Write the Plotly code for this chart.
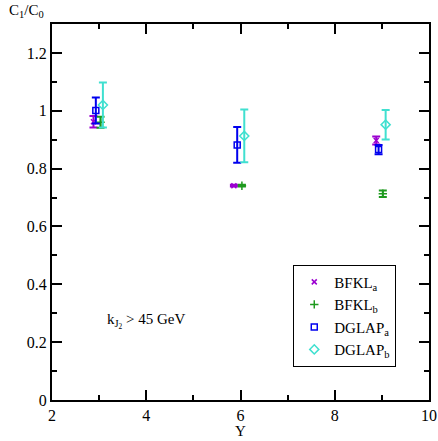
import plotly.graph_objects as go

# data
bfkl_a_x = [2.88, 5.86, 8.88]
bfkl_a_y = [0.962, 0.741, 0.897]
bfkl_a_err = [0.02, 0.003, 0.014]

bfkl_b_x = [3.03, 6.03, 9.02]
bfkl_b_y = [0.960, 0.741, 0.713]
bfkl_b_err = [0.019, 0.003, 0.011]

dglap_a_x = [2.93, 5.93, 8.93]
dglap_a_y = [1.001, 0.882, 0.866]
dglap_a_err = [0.045, 0.062, 0.016]

dglap_b_x = [3.08, 6.08, 9.08]
dglap_b_y = [1.020, 0.913, 0.952]
dglap_b_err = [0.078, 0.091, 0.051]

FONT = "Liberation Serif, Times New Roman, serif"

series = [
    ("BFKL<sub>a</sub>", bfkl_a_x, bfkl_a_y, bfkl_a_err, "#9B00D0", "x-thin-open", 5),
    ("BFKL<sub>b</sub>", bfkl_b_x, bfkl_b_y, bfkl_b_err, "#1E9A1E", "cross-thin-open", 6),
    ("DGLAP<sub>a</sub>", dglap_a_x, dglap_a_y, dglap_a_err, "#0000EE", "square-open", 6),
    ("DGLAP<sub>b</sub>", dglap_b_x, dglap_b_y, dglap_b_err, "#40E0D0", "diamond-open", 7),
]

fig = go.Figure()
for name, xs, ys, es, col, sym, sz in series:
    fig.add_trace(go.Scatter(
        x=xs, y=ys, mode="markers", name=name,
        marker=dict(symbol=sym, size=sz, color=col, line=dict(color=col, width=1.5)),
        error_y=dict(type="data", array=es, visible=True, color=col, thickness=2, width=4),
    ))

axis_common = dict(
    showline=True, linecolor="black", linewidth=2, mirror="allticks",
    ticks="inside", ticklen=10, tickwidth=1.5, tickcolor="black",
    showgrid=False, zeroline=False,
    tickfont=dict(family=FONT, size=16, color="black"),
)

fig.update_layout(
    width=438, height=441,
    margin=dict(l=52, r=9, t=24, b=41, autoexpand=False),
    paper_bgcolor="white", plot_bgcolor="white",
    font=dict(family=FONT, size=16, color="black"),
    xaxis=dict(range=[2, 10], dtick=2, tick0=2,
               minor=dict(dtick=1, ticks="inside", ticklen=5, tickcolor="black", tickwidth=1.5),
               **axis_common),
    yaxis=dict(range=[0, 1.3], dtick=0.2, tick0=0, tickformat="~g",
               minor=dict(dtick=0.1, ticks="inside", ticklen=5, tickcolor="black", tickwidth=1.5),
               **axis_common),
    legend=dict(x=0.64, y=0.36, xanchor="left", yanchor="top",
                bordercolor="black", borderwidth=1, bgcolor="white",
                font=dict(family=FONT, size=15, color="black"),
                tracegroupgap=0, itemwidth=30),
    showlegend=True,
)

fig.add_annotation(text="C<sub>1</sub>/C<sub>0</sub>", xref="paper", yref="paper",
                   x=-0.12, y=1.005, xanchor="left", yanchor="bottom", showarrow=False,
                   font=dict(family=FONT, size=15, color="black"))
fig.add_annotation(text="Y", xref="paper", yref="paper",
                   x=0.5, y=-0.082, xanchor="center", yanchor="middle", showarrow=False,
                   borderpad=0, font=dict(family=FONT, size=15, color="black"))
fig.add_annotation(text="k<sub>J<sub>2</sub></sub> > 45 GeV", xref="paper", yref="paper",
                   x=0.14, y=0.21, xanchor="left", yanchor="middle", showarrow=False,
                   font=dict(family=FONT, size=15, color="black"))

fig.write_html("out.html", config={"displayModeBar": False},
               post_script="document.body.style.margin='0';document.body.style.padding='0';")
